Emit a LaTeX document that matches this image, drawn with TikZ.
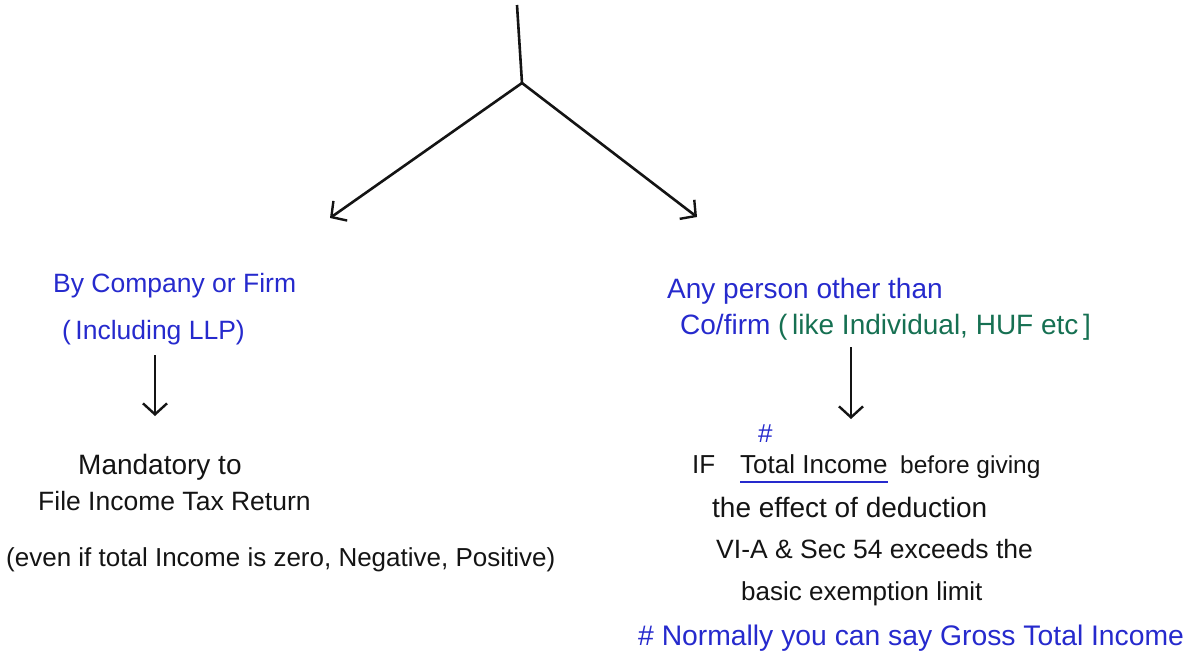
\documentclass[tikz,border=0pt]{standalone}
\usepackage{fontspec}
\setmainfont{Liberation Sans}
\usetikzlibrary{arrows.meta}
\definecolor{inkblue}{RGB}{38,42,205}
\definecolor{inkgreen}{RGB}{22,112,82}
\definecolor{ink}{RGB}{20,20,20}
\begin{document}
\begin{tikzpicture}[x=1pt,y=-1pt,
  txt/.style={anchor=base west,inner sep=0pt,font=\fontsize{23}{26}\selectfont,text=ink},
  bluetxt/.style={txt,text=inkblue},
  branch/.style={draw=ink,line width=2.6pt,-{Straight Barb[length=11pt,width=24pt,line width=2.4pt]}},
  stem/.style={draw=ink,line width=2.6pt}]
\useasboundingbox (0,0) rectangle (1193,662);
% trunk and branches
\coordinate (top) at (517,5);
\coordinate (J) at (522,83);
\coordinate (L) at (330,218);
\coordinate (R) at (697,217);
\draw[stem] (top) -- (J);
\draw[branch] (J) -- (L);
\draw[branch] (J) -- (R);
% left branch
\node[bluetxt,font=\fontsize{26.5}{30}\selectfont] (l1) at (53,292) {By Company or Firm};
\node[bluetxt,font=\fontsize{26.5}{30}\selectfont] (l2) at (62,339) {(\,Including LLP)};
\coordinate (la) at (155,355);
\coordinate (lb) at (155,416);
\draw[branch] (la) -- (lb);
\node[txt,font=\fontsize{28}{30}\selectfont] (l3) at (78,474) {Mandatory to};
\node[txt,font=\fontsize{26.5}{30}\selectfont] (l4) at (38,510) {File Income Tax Return};
\node[txt,font=\fontsize{26}{30}\selectfont] (l5) at (6,566) {(even if total Income is zero, Negative, Positive)};
% right branch
\node[bluetxt,font=\fontsize{28}{30}\selectfont] (r1) at (667,298) {Any person other than};
\node[txt,text=inkgreen,font=\fontsize{28}{30}\selectfont] (r2) at (680,334) {\textcolor{inkblue}{Co/firm} (\,like Individual, HUF etc\,]};
\coordinate (ra) at (851,347);
\coordinate (rb) at (851,419);
\draw[branch] (ra) -- (rb);
\node[bluetxt,font=\fontsize{26}{30}\selectfont] (hash) at (758,442) {\#};
\node[txt,font=\fontsize{26}{30}\selectfont] (r3a) at (692,473) {IF};
\node[txt,font=\fontsize{26}{30}\selectfont] (r3b) at (740,473) {Total Income};
\node[txt,font=\fontsize{24.5}{30}\selectfont] (r3c) at (900,473) {before giving};
\draw[inkblue,line width=2.2pt] ([yshift=-9pt]r3b.base west) -- ([yshift=-9pt]r3b.base east);
\node[txt,font=\fontsize{28}{30}\selectfont] (r4) at (712,517) {the effect of deduction};
\node[txt,font=\fontsize{26.5}{30}\selectfont] (r5) at (716,558) {VI-A \& Sec 54 exceeds the};
\node[txt,font=\fontsize{26}{30}\selectfont] (r6) at (741,600) {basic exemption limit};
\node[bluetxt,font=\fontsize{28.3}{30}\selectfont] (r7) at (638,645) {\# Normally you can say Gross Total Income};
\end{tikzpicture}
\end{document}
